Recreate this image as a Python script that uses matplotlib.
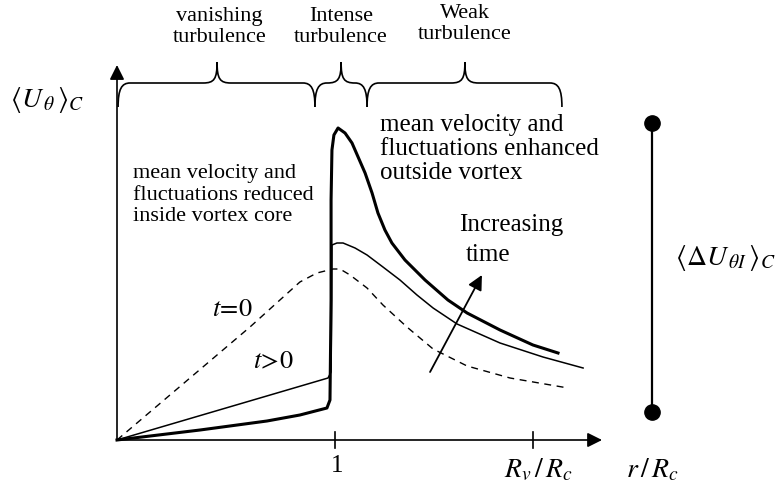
import numpy as np
import matplotlib
matplotlib.use("Agg")
import matplotlib.pyplot as plt
from matplotlib.path import Path
from matplotlib.patches import PathPatch

plt.rcParams["font.family"] = ["Liberation Serif", "DejaVu Serif"]
plt.rcParams["mathtext.fontset"] = "stix"

# r/R_c and <U_theta>_C (arbitrary units)
r_late = [0.0, 0.381, 0.688, 0.839, 0.963, 0.977, 0.982, 0.982, 0.986, 0.995,
          1.014, 1.046, 1.078, 1.106, 1.138, 1.170, 1.197, 1.229, 1.261,
          1.321, 1.413, 1.518, 1.606, 1.757, 1.908, 2.023]
u_late = [0.0, 0.10, 0.19, 0.25, 0.32, 0.40, 1.40, 2.40, 2.90, 3.05,
          3.12, 3.07, 2.97, 2.83, 2.67, 2.47, 2.27, 2.10, 1.97,
          1.80, 1.60, 1.40, 1.27, 1.10, 0.95, 0.87]

r_mid = [0.0, 0.968, 0.982, 0.986, 1.009, 1.037, 1.092, 1.147, 1.220,
         1.298, 1.376, 1.450, 1.560, 1.757, 1.954, 2.138]
u_mid = [0.0, 0.62, 0.68, 1.95, 1.97, 1.97, 1.92, 1.85, 1.73,
         1.60, 1.45, 1.32, 1.16, 0.97, 0.83, 0.72]

r_t0 = [0.0, 0.610, 0.839, 0.917, 0.991, 1.023, 1.069, 1.147, 1.220,
        1.330, 1.450, 1.606, 1.803, 2.069]
u_t0 = [0.0, 1.13, 1.58, 1.67, 1.71, 1.71, 1.65, 1.52, 1.35,
        1.13, 0.91, 0.74, 0.62, 0.52]

tick_pos = [1.0, 1.908]
regions = ["vanishing\nturbulence", "Intense\nturbulence", "Weak\nturbulence"]
region_edges = [0.005, 0.908, 1.147, 2.041]
region_tips = [0.459, 1.028, 1.596]

fig = plt.figure(figsize=(7.81, 4.96), dpi=100)
ax = fig.add_axes([0, 0, 1, 1])
ax.set_xlim(-0.5367, 3.0459)
ax.set_ylim(-0.56, 4.40)
ax.axis("off")

# curves
ax.plot(r_t0, u_t0, color="black", lw=1.0, ls=(0, (5, 4)))
ax.plot(r_mid, u_mid, color="black", lw=1.1, solid_joinstyle="round")
ax.plot(r_late, u_late, color="black", lw=2.2, solid_joinstyle="round")

# axes with arrows
arrow = dict(arrowstyle="-|>", lw=1.2, color="black", mutation_scale=22,
             shrinkA=0, shrinkB=0)
ax.annotate("", xy=(2.225, 0), xytext=(0, 0), arrowprops=arrow)
ax.annotate("", xy=(0, 3.75), xytext=(0, 0), arrowprops=arrow)
for t in tick_pos:
    ax.plot([t, t], [-0.08, 0.08], color="black", lw=1.2)

ax.text(1.009, -0.26, "1", fontsize=18, ha="center", va="center")
ax.text(1.931, -0.30, r"$R_v\,/\,R_c$", fontsize=20, ha="center", va="center")
ax.text(2.454, -0.30, r"$r\,/\,R_c$", fontsize=20, ha="center", va="center")
ax.text(-0.321, 3.40, r"$\left\langle U_{\,\theta}\,\right\rangle_C$",
        fontsize=20, ha="center", va="center")
ax.text(2.789, 1.82, r"$\left\langle \Delta U_{\,\theta I}\,\right\rangle_C$",
        fontsize=20, ha="center", va="center")

# range bar on right
ax.plot([2.454, 2.454], [0.28, 3.17], color="black", lw=1.6,
        marker="o", markersize=11)

# time arrow
ax.annotate("", xy=(1.674, 1.65), xytext=(1.436, 0.68),
            arrowprops=dict(arrowstyle="-|>", lw=1.3, color="black",
                            mutation_scale=22, shrinkA=0, shrinkB=0))
ax.text(1.569, 2.15, "Increasing", fontsize=18, ha="left", va="center")
ax.text(1.601, 1.85, "time", fontsize=18, ha="left", va="center")

ax.text(0.528, 1.30, r"$t\!=\!0$", fontsize=19, ha="center", va="center")
ax.text(0.716, 0.78, r"$t\!>\!0$", fontsize=19, ha="center", va="center")

ax.text(0.073, 2.45, "mean velocity and\nfluctuations reduced\ninside vortex core",
        fontsize=16, ha="left", va="center", linespacing=1.2)
ax.text(1.206, 2.91, "mean velocity and\nfluctuations enhanced\noutside vortex",
        fontsize=18, ha="left", va="center", linespacing=1.12)


def brace(x0, x1, xm, yb=3.57, yend=3.33, ytip=3.78, r=0.055, rt=0.064):
    verts = [(x0, yend), (x0, yb - 0.06), (x0 + r * 0.3, yb), (x0 + r, yb),
             (xm - rt, yb),
             (xm - rt * 0.2, yb), (xm, yb + 0.04), (xm, ytip),
             (xm, yb + 0.04), (xm + rt * 0.2, yb), (xm + rt, yb),
             (x1 - r, yb),
             (x1 - r * 0.3, yb), (x1, yb - 0.06), (x1, yend)]
    codes = [Path.MOVETO, Path.CURVE4, Path.CURVE4, Path.CURVE4,
             Path.LINETO,
             Path.CURVE4, Path.CURVE4, Path.CURVE4,
             Path.CURVE4, Path.CURVE4, Path.CURVE4,
             Path.LINETO,
             Path.CURVE4, Path.CURVE4, Path.CURVE4]
    ax.add_patch(PathPatch(Path(verts, codes), fill=False, lw=1.2,
                           edgecolor="black"))


for i, name in enumerate(regions):
    brace(region_edges[i], region_edges[i + 1], region_tips[i])
    ytxt = 4.16 if i == 2 else 4.13
    ax.text(region_tips[i] + (0.012 if i == 0 else 0), ytxt, name,
            fontsize=16, ha="center", va="center", linespacing=1.2)

plt.savefig("out.png", dpi=100)
